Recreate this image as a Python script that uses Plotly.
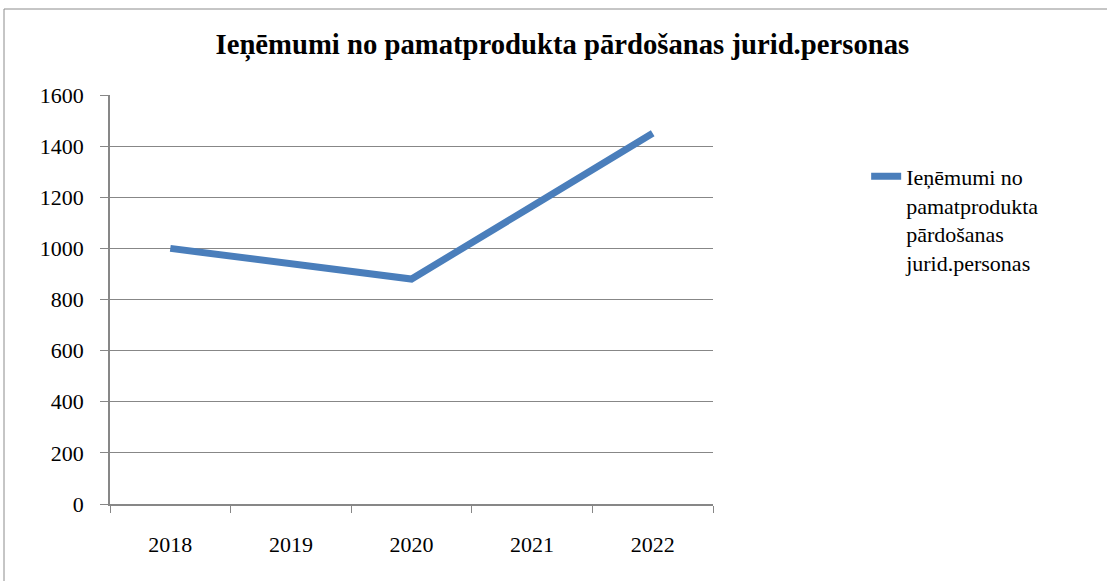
import plotly.graph_objects as go

# datos del gráfico
years = ["2018", "2019", "2020", "2021", "2022"]
revenue = [1000, 940, 880, 1165, 1450]
series_name = "Ieņēmumi no<br>pamatprodukta<br>pārdošanas<br>jurid.personas"
chart_title = "Ieņēmumi no pamatprodukta pārdošanas jurid.personas"

FONT = "Liberation Serif, Times New Roman, serif"
GRIS = "#878787"

fig = go.Figure()
fig.add_trace(go.Scatter(
    x=years,
    y=revenue,
    mode="lines",
    name=series_name,
    line=dict(color="#4a7ebb", width=7),
))

fig.update_layout(
    width=1107,
    height=581,
    margin=dict(l=110, r=394, t=95, b=77),
    paper_bgcolor="white",
    plot_bgcolor="white",
    font=dict(family=FONT, size=21, color="black"),
    title=dict(
        text="<b>" + chart_title + "</b>",
        font=dict(family=FONT, size=28.7, color="black"),
        xref="container", x=0.508, xanchor="center",
        yref="container", y=1 - 44 / 581, yanchor="middle",
    ),
    showlegend=True,
    legend=dict(
        x=1.254, y=0.852, xanchor="left", yanchor="top",
        valign="top",
        font=dict(family=FONT, size=22, color="black"),
        bgcolor="rgba(0,0,0,0)",
    ),
    xaxis=dict(
        type="category",
        showgrid=False,
        showline=True, linecolor=GRIS, linewidth=1.5,
        ticks="outside", tickson="boundaries", ticklen=7, tickcolor=GRIS,
        tickfont=dict(family=FONT, size=22, color="black"),
        ticklabelstandoff=20,
        zeroline=False,
        range=[-0.5, 4.5],
    ),
    yaxis=dict(
        range=[0, 1600], dtick=200,
        showgrid=True, gridcolor=GRIS, gridwidth=1,
        showline=True, linecolor=GRIS, linewidth=1.5,
        ticks="outside", ticklen=8, tickcolor=GRIS,
        tickfont=dict(family=FONT, size=22, color="black"),
        ticklabelstandoff=12,
        zeroline=False,
    ),
    shapes=[dict(
        type="rect", xref="paper", yref="paper",
        x0=(4 - 110) / 603, x1=(1112 - 110) / 603,
        y0=(504 - 590) / 409, y1=(504 - 9) / 409,
        line=dict(color="#8c8c8c", width=1),
        fillcolor="rgba(0,0,0,0)",
        layer="below",
    )],
)

fig.write_html("out.html", config={"displayModeBar": False},
               post_script="document.body.style.margin='0';")
